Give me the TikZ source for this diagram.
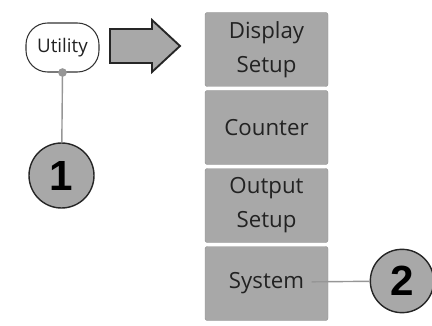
\documentclass[tikz,border=0pt]{standalone}
\usepackage{fontspec}
\setmainfont{Open Sans}
\newfontfamily\numfont{Liberation Sans}
\usetikzlibrary{positioning}
\definecolor{menugray}{RGB}{168,168,168}
\definecolor{linegray}{RGB}{150,150,150}
\definecolor{textgray}{RGB}{34,34,34}
\tikzset{every node/.style={text=textgray}}

\begin{document}
\begin{tikzpicture}[node distance=2.34cm, align=center]
  \tikzstyle{menu}=[draw=linegray, fill=menugray, rounded corners=2pt, minimum width=3.69cm, minimum height=2.22cm, inner sep=0pt, font=\fontsize{19}{29}\selectfont]
    \tikzstyle{num}=[circle, draw=black!85, line width=1.2pt, fill=menugray, inner sep=0pt, font=\numfont\bfseries\fontsize{36}{36}\selectfont, text=black]
    \useasboundingbox (0,0) rectangle (12.96,9.75);

    \node(u1) at (1.875,8.325) [draw=black!80, line width=0.9pt, fill=white, rounded corners=0.65cm, minimum width=2.19cm, minimum height=1.47cm, font=\fontsize{16}{16}\selectfont] {Utility};
    \node(m1) at (7.995,8.265) [menu]      {Display\\Setup};
    \node(m2) [menu, below of=m1]          {Counter};
    \node(m3) [menu, below of=m2]          {Output\\Setup};
    \node(m4) [menu, below of=m3]          {System};
    \node(c1) at (1.845,4.485) [num, minimum size=1.95cm] {1};
    \node(c2) at (12.06,1.32) [num, minimum size=1.9cm]   {2};
    \coordinate(e4) at ([xshift=-0.5cm,yshift=0.05cm]m4.east);

    % big arrow
    \draw [draw=black!85, line width=1.6pt, fill=menugray, line join=miter]
      (3.3,8.88) -- (4.56,8.88) -- (4.56,9.15) -- (5.4,8.37) -- (4.56,7.59) -- (4.56,7.86) -- (3.3,7.86) -- cycle;

    \draw [draw=linegray, line width=1.2pt] (u1.south) -- (c1);
    \fill [linegray] (u1.south) circle (0.13);
    \draw [draw=linegray, line width=1.2pt] (e4) -- (c2);

  \end{tikzpicture}
\end{document}
